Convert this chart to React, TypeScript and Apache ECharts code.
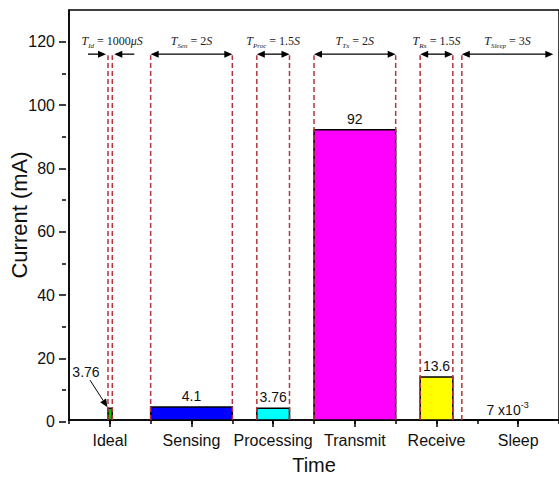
import React, { useEffect, useRef } from "react";
import * as echarts from "echarts";

// ---- data ----
const phases = ["Ideal", "Sensing", "Processing", "Transmit", "Receive", "Sleep"];
const currents = [3.76, 4.1, 3.76, 92, 13.6, 0.007];
const startTimes = [0.955, 2, 4.6, 6, 8.6, 9.62];
const endTimes = [1.06, 4, 5.4, 8, 9.4, 11.86];
const valueLabels = ["3.76", "4.1", "3.76", "92", "13.6", "{n|7 x10}{sup|-3}"];
const phaseColors = ["#00c800", "#0000ff", "#00ffff", "#ff00ff", "#ffff00", "#ffffff"];
const durSubs = ["Id", "Sen", "Proc", "Tx", "Rx", "Sleep"];
const durValues = ["1000", "2", "1.5", "2", "1.5", "3"];
const durUnits = ["μS", "S", "S", "S", "S", "S"];
const tickLabels = ["", "Ideal", "", "Sensing", "", "Processing", "", "Transmit", "", "Receive", "", "Sleep", ""];
const yTicks = [0, 20, 40, 60, 80, 100, 120];
const markerLevel = 116; // level of the duration arrows (mA)
const xMax = 12;
const yMax = 130;

const DASH = "#b5343c";
const FONT = "Liberation Sans, Arial, sans-serif";
const SERIF = "Liberation Serif, Times New Roman, serif";

function head(tipX: number, tipY: number, dx: number, dy: number) {
  const len = Math.hypot(dx, dy) || 1;
  const ux = dx / len, uy = dy / len;
  const L = 8, W = 3.5;
  const bx = tipX - ux * L, by = tipY - uy * L;
  return {
    type: "polygon",
    shape: { points: [[tipX, tipY], [bx - uy * W, by + ux * W], [bx + uy * W, by - ux * W]] },
    style: { fill: "#000" },
  };
}
function seg(x1: number, y1: number, x2: number, y2: number, style: any) {
  return { type: "line", shape: { x1, y1, x2, y2 }, style };
}

export default function App() {
  const ref = useRef<HTMLDivElement>(null);
  useEffect(() => {
    document.body.style.margin = "0";
    const chart = echarts.init(ref.current!, undefined, { renderer: "svg" });
    const data = phases.map((_, i) => [startTimes[i], endTimes[i], currents[i], i]);
    const arrowStyle = { stroke: "#000", lineWidth: 1.3 };
    const dashStyle = { stroke: DASH, lineWidth: 1.5, lineDash: [5, 3] };
    chart.setOption({
      animation: false,
      grid: [
        { left: 66, width: 499, top: 10, bottom: 58.3, show: true, borderColor: "#000", borderWidth: 1.5 },
        { left: 66, width: 499, top: 10 + (411.7 * (yMax - 120)) / yMax, bottom: 58.3 },
      ],
      xAxis: [
        {
          gridIndex: 0, type: "value", min: 0, max: xMax, interval: 1,
          axisLine: { show: true, onZero: false, lineStyle: { color: "#000", width: 1.5 } },
          axisTick: { show: true, length: 4, lineStyle: { color: "#000", width: 1.5 } },
          axisLabel: { show: false }, splitLine: { show: false },
        },
        {
          gridIndex: 0, type: "category", data: tickLabels, boundaryGap: false, position: "bottom",
          axisLine: { show: false },
          axisTick: { show: true, length: 7, interval: (i: number) => i % 2 === 1, lineStyle: { color: "#000", width: 1.5 } },
          axisLabel: { interval: (i: number) => i % 2 === 1, fontSize: 16, margin: 12, color: "#111", fontFamily: FONT },
          name: "Time", nameLocation: "middle", nameGap: 35,
          nameTextStyle: { fontSize: 20, color: "#111", fontFamily: FONT },
          splitLine: { show: false },
        },
        { gridIndex: 1, type: "value", min: 0, max: xMax, show: false },
      ],
      yAxis: [
        {
          gridIndex: 0, type: "value", min: 0, max: yMax,
          axisLine: { show: true, onZero: false, lineStyle: { color: "#000", width: 1.5 } },
          axisTick: { show: false }, axisLabel: { show: false }, splitLine: { show: false },
          name: "Current (mA)", nameLocation: "middle", nameGap: 39,
          nameTextStyle: { fontSize: 22, color: "#111", fontFamily: FONT },
        },
        {
          gridIndex: 1, type: "value", min: yTicks[0], max: yTicks[yTicks.length - 1], interval: 20,
          axisLine: { show: false },
          axisTick: { show: true, length: 7, lineStyle: { color: "#000", width: 1.5 } },
          minorTick: { show: true, splitNumber: 2, length: 4, lineStyle: { color: "#000", width: 1.5 } },
          axisLabel: { fontSize: 16, margin: 11, color: "#111", fontFamily: FONT },
          splitLine: { show: false }, minorSplitLine: { show: false },
        },
      ],
      series: [
        {
          type: "custom",
          xAxisIndex: 0, yAxisIndex: 0,
          encode: { x: [0, 1], y: 2 },
          data,
          renderItem: (params: any, api: any) => {
            const x0v = api.value(0), x1v = api.value(1), v = api.value(2), i = api.value(3);
            const bl = api.coord([x0v, 0]);
            const tr = api.coord([x1v, v]);
            const x0 = bl[0], x1 = tr[0], y0 = bl[1], yt = tr[1];
            const ay = api.coord([x0v, markerLevel])[1];
            const children: any[] = [];
            children.push({
              type: "rect",
              shape: { x: x0, y: yt, width: x1 - x0, height: y0 - yt },
              style: { fill: phaseColors[i], stroke: "#000", lineWidth: 1.5 },
            });
            children.push(seg(x0, y0, x0, ay + 1, dashStyle));
            if (i < phases.length - 1) children.push(seg(x1, y0, x1, ay + 1, dashStyle));
            const narrow = x1 - x0 < 20;
            if (narrow) {
              children.push(seg(x0 - 20, ay, x0 - 4, ay, arrowStyle), head(x0 - 2, ay, 1, 0));
              children.push(seg(x1 + 22, ay, x1 + 4, ay, arrowStyle), head(x1 + 2, ay, -1, 0));
            } else {
              children.push(seg(x0 + 4, ay, x1 - 4, ay, arrowStyle), head(x0, ay, -1, 0), head(x1, ay, 1, 0));
            }
            children.push({
              type: "text",
              x: (x0 + x1) / 2 + (narrow ? 2 : 0), y: ay - 14,
              style: {
                text: `{i|T}{s|${durSubs[i]}}{n| = ${durValues[i]}}{i|${durUnits[i]}}`,
                align: "center", verticalAlign: "middle",
                rich: {
                  i: { fontFamily: SERIF, fontStyle: "italic", fontSize: 12, fill: "#222", lineHeight: 14, verticalAlign: "bottom" },
                  s: { fontFamily: SERIF, fontStyle: "italic", fontSize: 7, fill: "#222", lineHeight: 14, verticalAlign: "bottom", padding: [0, 0, -2, 0] },
                  n: { fontFamily: SERIF, fontSize: 12, fill: "#222", lineHeight: 14, verticalAlign: "bottom" },
                },
              },
            });
            if (narrow) {
              const lx = x0 - 22, ly = yt - 36;
              children.push({
                type: "text", x: lx, y: ly,
                style: { text: valueLabels[i], align: "center", verticalAlign: "middle", fontSize: 14, fontFamily: FONT, fill: "#111" },
              });
              const sx = x0 - 18, sy = yt - 28, ex = x0 - 0.5, ey = yt - 1;
              children.push(seg(sx, sy, ex - (ex - sx) * 0.25, ey - (ey - sy) * 0.25, { stroke: "#000", lineWidth: 1 }));
              children.push(head(ex, ey, ex - sx, ey - sy));
            } else {
              children.push({
                type: "text", x: (x0 + x1) / 2, y: yt - 11,
                style: {
                  text: valueLabels[i], align: "center", verticalAlign: "middle",
                  fontSize: 14, fontFamily: FONT, fill: "#111",
                  rich: {
                    n: { fontSize: 14, fontFamily: FONT, fill: "#111", lineHeight: 16, verticalAlign: "bottom" },
                    sup: { fontSize: 9, fontFamily: FONT, fill: "#111", lineHeight: 16, verticalAlign: "top", padding: [0, 0, 6, 0] },
                  },
                },
              });
            }
            return { type: "group", children };
          },
        },
      ],
    });
    return () => chart.dispose();
  }, []);
  return <div ref={ref} style={{ width: 559, height: 480 }} />;
}
